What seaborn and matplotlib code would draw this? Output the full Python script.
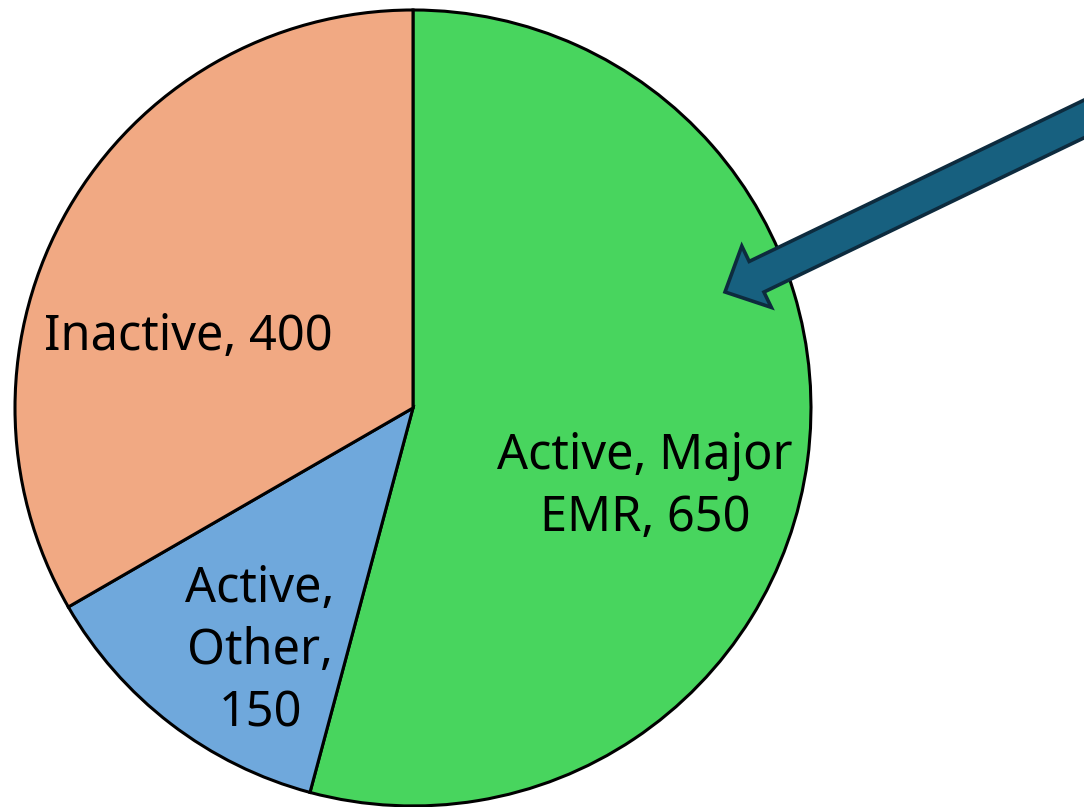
import matplotlib
matplotlib.use("Agg")
import matplotlib.pyplot as plt
import seaborn as sns
from matplotlib.patches import FancyArrow

# data
categories = ["Active, Major EMR", "Active, Other", "Inactive"]
counts = [650, 150, 400]
colors = ["#48D55E", "#6FA8DC", "#F1A983"]

# label text (wrapped as in the original) and placement
label_text = ["Active, Major\nEMR, 650", "Active,\nOther,\n150", "Inactive, 400"]
label_pos = [(0.583, -0.198), (-0.384, -0.611), (-0.565, 0.178)]

sns.set_theme(style="white")
plt.rcParams["font.family"] = ["Noto Sans", "DejaVu Sans"]

fig = plt.figure(figsize=(10.84, 8.07), dpi=100)
ax = fig.add_axes([0, 0, 1, 1])

ax.pie(counts, colors=colors, startangle=90, counterclock=False, radius=1.0,
       wedgeprops=dict(edgecolor="black", linewidth=2.2))

for txt, (x, y) in zip(label_text, label_pos):
    ax.text(x, y, txt, ha="center", va="center", fontsize=35,
            color="black", linespacing=1.33)

# big pointer arrow coming in from the right
arrow = FancyArrow(1.751, 0.7575, -0.967, -0.466, width=0.0854,
                   head_width=0.171, head_length=0.088,
                   length_includes_head=True, facecolor="#17607F",
                   edgecolor="#0D2B3E", linewidth=2.6, zorder=5)
ax.add_patch(arrow)

ax.set_xlim(-1.0377, 1.686)
ax.set_ylim(-1.0025, 1.025)
ax.set_aspect("equal")
ax.axis("off")

fig.savefig("out.png", dpi=100)
